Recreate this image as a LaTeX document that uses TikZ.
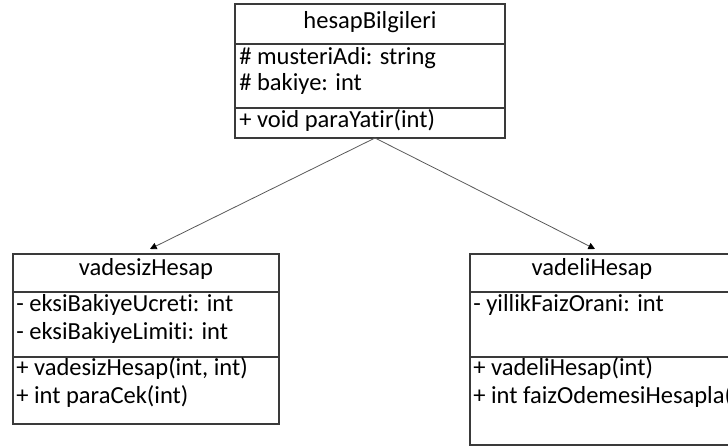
\documentclass[tikz,border=0pt]{standalone}
\usepackage{fontspec}
\setmainfont[Ligatures=NoCommon]{Carlito}
\usetikzlibrary{arrows.meta,positioning}
\definecolor{Ink}{HTML}{000000}
\definecolor{Frame}{HTML}{3A3A3A}
\definecolor{Wire}{HTML}{595959}
\newcommand{\umlfont}{\fontsize{18.4}{22}\selectfont}
\tikzset{
  classbox/.style={draw=Frame,line width=0.8pt,rectangle,inner sep=0pt},
  divider/.style={draw=Frame,line width=0.8pt},
  classname/.style={anchor=base,inner sep=0pt,text=Ink,font=\umlfont},
  member/.style={anchor=base west,inner sep=0pt,text=Ink,font=\umlfont},
  inherit/.style={draw=Wire,line width=0.6pt,-{Triangle[length=5pt,width=5pt,color=Ink]}}
}

\begin{document}
\begin{tikzpicture}[x=0.75pt,y=-0.75pt]
  \useasboundingbox (0,0) rectangle (728,448);
  \clip (0,0) rectangle (728,448);
  % base class
  \node[classbox,minimum width=202.5pt,minimum height=100.5pt] (base) at (370,71) {};
  \draw[divider] (base.west |- 0,44) -- (base.east |- 0,44);
  \draw[divider] (base.west |- 0,108) -- (base.east |- 0,108);
  \node[classname] (baseName) at (370,29) {hesapBilgileri};
  \node[member] (baseAttrA) at (239,65) {\# musteriAdi: string};
  \node[member] (baseAttrB) at (239,91) {\# bakiye: int};
  \node[member] (baseOpA) at (239,128) {+ void paraYatir(int)};
  % vadesiz
  \node[classbox,minimum width=199.5pt,minimum height=127.5pt] (vadesiz) at (146,339) {};
  \draw[divider] (vadesiz.west |- 0,292) -- (vadesiz.east |- 0,292);
  \draw[divider] (vadesiz.west |- 0,357) -- (vadesiz.east |- 0,357);
  \node[classname] (vadesizName) at (146,276) {vadesizHesap};
  \node[member] (vadesizAttrA) at (16,312) {- eksiBakiyeUcreti: int};
  \node[member] (vadesizAttrB) at (16,340) {- eksiBakiyeLimiti: int};
  \node[member] (vadesizOpA) at (16,376) {+ vadesizHesap(int, int)};
  \node[member] (vadesizOpB) at (16,404) {+ int paraCek(int)};
  % vadeli
  \node[classbox,minimum width=217.5pt,minimum height=143.25pt] (vadeli) at (615,349.5) {};
  \draw[divider] (vadeli.west |- 0,292) -- (vadeli.east |- 0,292);
  \draw[divider] (vadeli.west |- 0,357) -- (vadeli.east |- 0,357);
  \node[classname] (vadeliName) at (592,276) {vadeliHesap};
  \node[member] (vadeliAttrA) at (473,312) {- yillikFaizOrani: int};
  \node[member] (vadeliOpA) at (473,376) {+ vadeliHesap(int)};
  \node[member] (vadeliOpB) at (473,404) {+ int faizOdemesiHesapla(};
  % inheritance arrows
  \coordinate (fork) at (375,138);
  \coordinate (tipL) at (150,249);
  \coordinate (tipR) at (595,249);
  \draw[inherit] (fork) -- (tipL);
  \draw[inherit] (fork) -- (tipR);
\end{tikzpicture}
\end{document}
